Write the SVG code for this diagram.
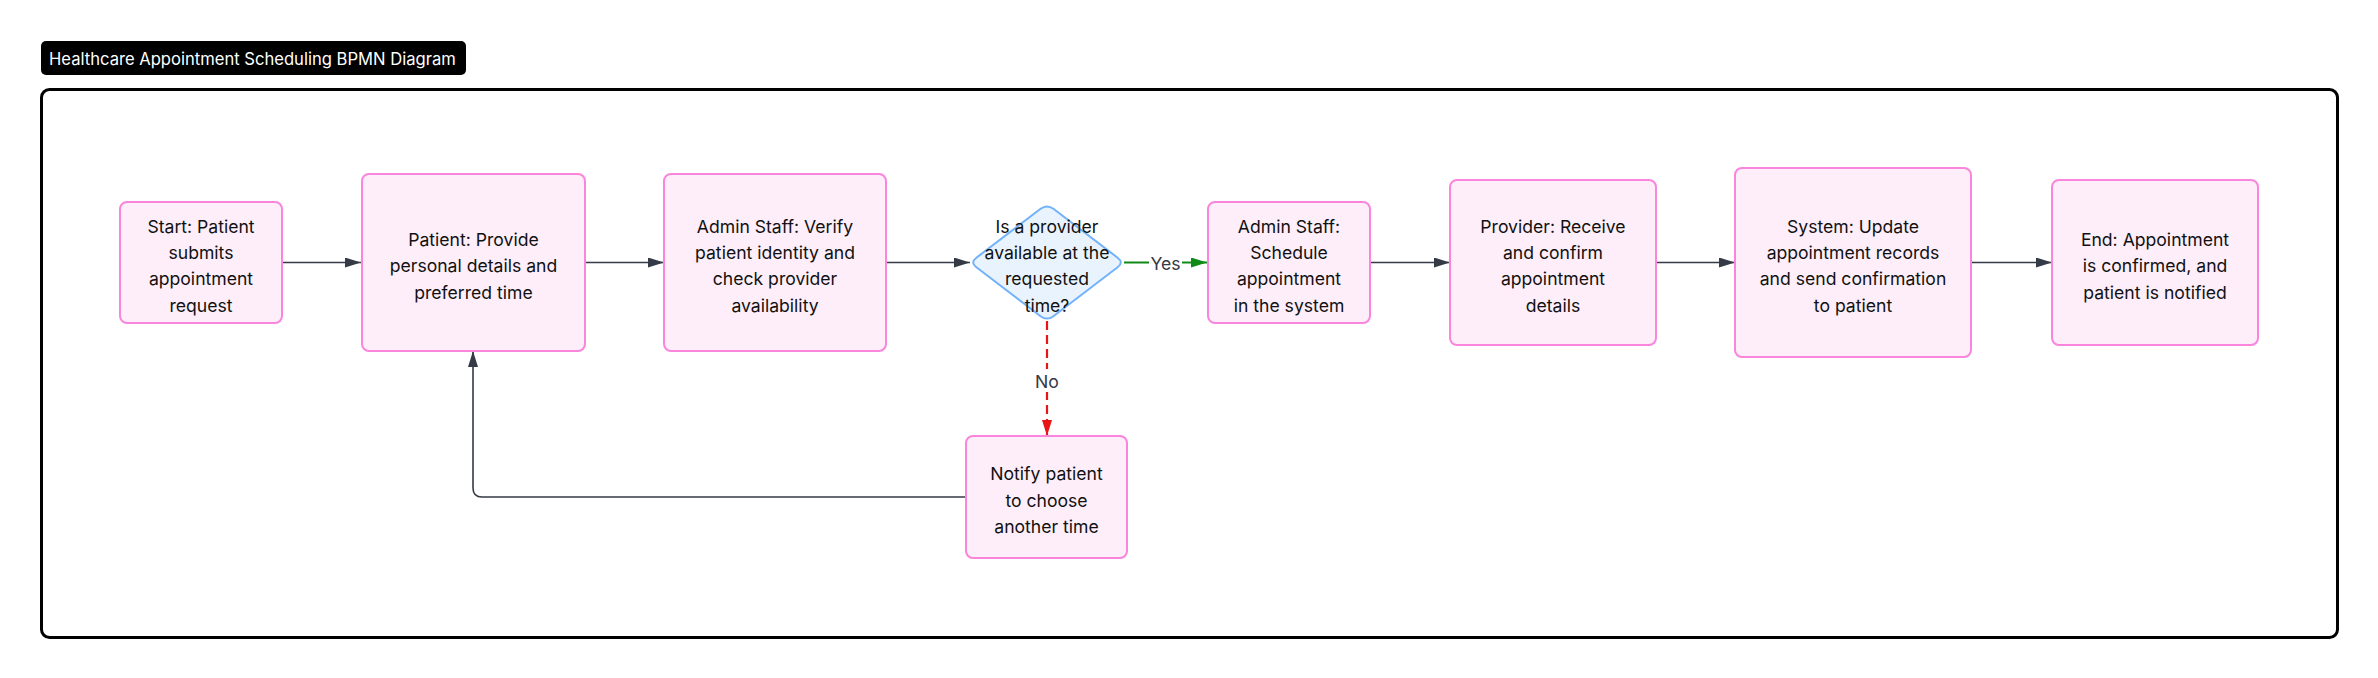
<svg xmlns="http://www.w3.org/2000/svg" width="2378" height="678" viewBox="0 0 2378 678">
<style>
  .node rect { fill: #fdeefa; stroke: #f985dc; stroke-width: 2; }
  .node text, .dec text { font-family: Inter, "Liberation Sans", sans-serif; font-size: 17.6px; fill: #111; text-anchor: middle; dominant-baseline: central; }
  .dec path { fill: #e9f3fe; stroke: #72b2fa; stroke-width: 2; }
  .edge { fill: none; stroke: #343a46; stroke-width: 1.6; }
  .yes { fill: none; stroke: #0f8a16; stroke-width: 2; }
  .no { fill: none; stroke: #e81515; stroke-width: 2.2; stroke-dasharray: 9 5; }
  .lbl { font-family: Inter, "Liberation Sans", sans-serif; font-size: 17.6px; fill: #343a46; text-anchor: middle; dominant-baseline: central; }
  .title { font-family: Inter, "Liberation Sans", sans-serif; font-size: 16.6px; fill: #fff; dominant-baseline: central; }
</style>
<defs>
  <marker id="ah" markerUnits="userSpaceOnUse" markerWidth="16" markerHeight="10" refX="16" refY="5" orient="auto">
    <path d="M0,0 L16,5 L0,10 z" fill="#343a46"/>
  </marker>
  <marker id="ahg" markerUnits="userSpaceOnUse" markerWidth="16" markerHeight="10" refX="16" refY="5" orient="auto">
    <path d="M0,0 L16,5 L0,10 z" fill="#0f8a16"/>
  </marker>
  <marker id="ahr" markerUnits="userSpaceOnUse" markerWidth="16" markerHeight="10" refX="16" refY="5" orient="auto">
    <path d="M0,0 L16,5 L0,10 z" fill="#e81515"/>
  </marker>
</defs>
<rect width="2378" height="678" fill="#fff"/>

<g id="title">
  <rect x="41" y="41" width="425" height="34" rx="5" fill="#000"/>
  <text class="title" x="49" y="58.5">Healthcare Appointment Scheduling BPMN Diagram</text>
</g>

<g id="frame">
  <rect x="41.5" y="89.5" width="2296" height="548" rx="8" fill="none" stroke="#000" stroke-width="3"/>
</g>

<g id="connectors">
  <path class="edge" d="M282,262.5 H361" marker-end="url(#ah)"/>
  <path class="edge" d="M585,262.5 H664" marker-end="url(#ah)"/>
  <path class="edge" d="M886,262.5 H970" marker-end="url(#ah)"/>
  <path class="yes" d="M1124,262.5 H1207" marker-end="url(#ahg)"/>
  <rect x="1149" y="252" width="33" height="22" fill="#fff"/>
  <text class="lbl" x="1165.5" y="263.5">Yes</text>
  <path class="edge" d="M1370,262.5 H1450" marker-end="url(#ah)"/>
  <path class="edge" d="M1656,262.5 H1735" marker-end="url(#ah)"/>
  <path class="edge" d="M1971,262.5 H2052" marker-end="url(#ah)"/>
  <path class="no" d="M1047,321 V436" marker-end="url(#ahr)"/>
  <rect x="1033" y="369" width="28" height="23" fill="#fff"/>
  <text class="lbl" x="1047" y="381">No</text>
  <path class="edge" d="M966,497 H482 Q473,497 473,488 V351" marker-end="url(#ah)"/>
</g>

<g id="start" class="node">
  <rect x="120" y="202" width="162" height="121" rx="7"/>
  <text x="201"><tspan x="201" y="226">Start: Patient</tspan><tspan x="201" y="252.2">submits</tspan><tspan x="201" y="278.4">appointment</tspan><tspan x="201" y="304.6">request</tspan></text>
</g>

<g id="provide" class="node">
  <rect x="362" y="174" width="223" height="177" rx="7"/>
  <text x="473.5"><tspan x="473.5" y="239.2">Patient: Provide</tspan><tspan x="473.5" y="265.4">personal details and</tspan><tspan x="473.5" y="291.6">preferred time</tspan></text>
</g>

<g id="verify" class="node">
  <rect x="664" y="174" width="222" height="177" rx="7"/>
  <text x="775"><tspan x="775" y="226">Admin Staff: Verify</tspan><tspan x="775" y="252.2">patient identity and</tspan><tspan x="775" y="278.4">check provider</tspan><tspan x="775" y="304.6">availability</tspan></text>
</g>

<g id="decision" class="dec">
  <path d="M1040.6,208.8 Q1047,204 1053.4,208.8 L1117.6,257.7 Q1124,262.5 1117.6,267.3 L1053.4,316.2 Q1047,321 1040.6,316.2 L976.4,267.3 Q970,262.5 976.4,257.7 Z"/>
  <text x="1047"><tspan x="1047" y="226">Is a provider</tspan><tspan x="1047" y="252.2">available at the</tspan><tspan x="1047" y="278.4">requested</tspan><tspan x="1047" y="304.6">time?</tspan></text>
</g>

<g id="schedule" class="node">
  <rect x="1208" y="202" width="162" height="121" rx="7"/>
  <text x="1289"><tspan x="1289" y="226">Admin Staff:</tspan><tspan x="1289" y="252.2">Schedule</tspan><tspan x="1289" y="278.4">appointment</tspan><tspan x="1289" y="304.6">in the system</tspan></text>
</g>

<g id="confirm" class="node">
  <rect x="1450" y="180" width="206" height="165" rx="7"/>
  <text x="1553"><tspan x="1553" y="226">Provider: Receive</tspan><tspan x="1553" y="252.2">and confirm</tspan><tspan x="1553" y="278.4">appointment</tspan><tspan x="1553" y="304.6">details</tspan></text>
</g>

<g id="update" class="node">
  <rect x="1735" y="168" width="236" height="189" rx="7"/>
  <text x="1853"><tspan x="1853" y="226">System: Update</tspan><tspan x="1853" y="252.2">appointment records</tspan><tspan x="1853" y="278.4">and send confirmation</tspan><tspan x="1853" y="304.6">to patient</tspan></text>
</g>

<g id="end" class="node">
  <rect x="2052" y="180" width="206" height="165" rx="7"/>
  <text x="2155"><tspan x="2155" y="239.2">End: Appointment</tspan><tspan x="2155" y="265.4">is confirmed, and</tspan><tspan x="2155" y="291.6">patient is notified</tspan></text>
</g>

<g id="notify" class="node">
  <rect x="966" y="436" width="161" height="122" rx="7"/>
  <text x="1046.5"><tspan x="1046.5" y="473.3">Notify patient</tspan><tspan x="1046.5" y="499.5">to choose</tspan><tspan x="1046.5" y="525.7">another time</tspan></text>
</g>
</svg>
